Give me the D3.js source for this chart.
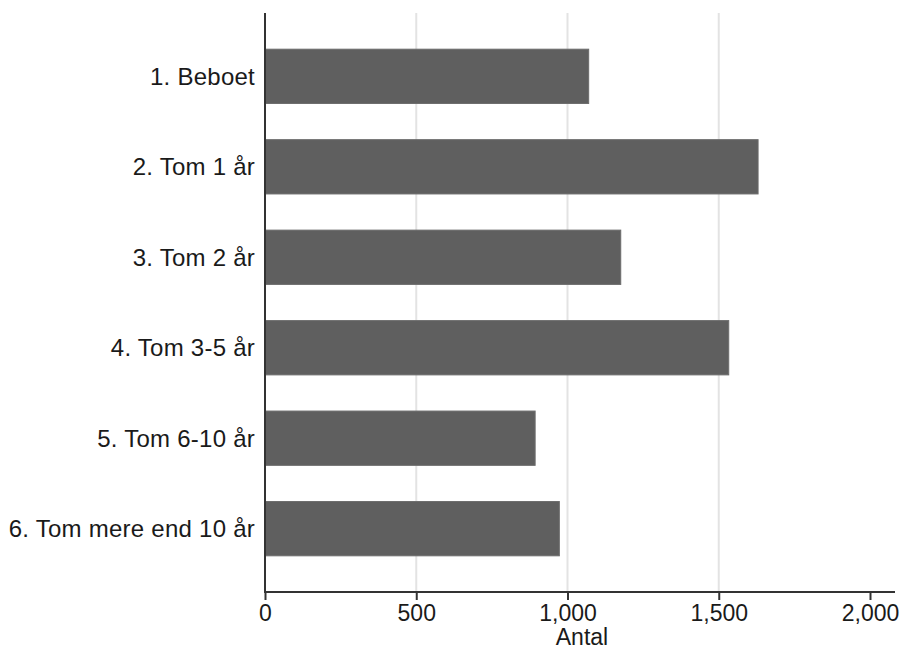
<!DOCTYPE html>
<html>
<head>
<meta charset="utf-8">
<script src="https://cdn.jsdelivr.net/npm/d3@7"></script>
<style>
  html, body { margin: 0; padding: 0; background: #fff; }
  svg { display: block; }
  text { font-family: "Liberation Sans", Arial, sans-serif; fill: #1a1a1a; }
</style>
</head>
<body>
<svg id="chart" width="903" height="651"></svg>
<script>
const categories = ["1. Beboet", "2. Tom 1 år", "3. Tom 2 år", "4. Tom 3-5 år", "5. Tom 6-10 år", "6. Tom mere end 10 år"];
const values = [1070, 1630, 1176, 1533, 893, 973];
const xTicks = [0, 500, 1000, 1500, 2000];
const gridTicks = [500, 1000, 1500];
const xTitle = "Antal";

const svg = d3.select("#chart");

const x = d3.scaleLinear().domain([0, 2000]).range([265, 870]);
const y = d3.scaleBand().domain(categories).range([13, 592]).paddingInner(0.4).paddingOuter(0.4);

// gridlines
svg.append("g").selectAll("line").data(gridTicks).join("line")
  .attr("x1", d => x(d)).attr("x2", d => x(d))
  .attr("y1", 13).attr("y2", 592)
  .attr("stroke", "#e3e3e3").attr("stroke-width", 2);

// bars
svg.append("g").selectAll("rect").data(categories).join("rect")
  .attr("x", x(0))
  .attr("y", d => y(d))
  .attr("width", (d, i) => x(values[i]) - x(0))
  .attr("height", y.bandwidth())
  .attr("fill", "#5f5f5f")
  .attr("stroke", "#6c6c6c")
  .attr("stroke-width", 1);

// x axis
const xAxis = svg.append("g").attr("transform", "translate(0,592)")
  .call(d3.axisBottom(x).tickValues(xTicks).tickSize(8).tickPadding(5).tickFormat(d3.format(",")));
xAxis.select(".domain").remove();
xAxis.selectAll(".tick line").attr("stroke", "#333").attr("stroke-width", 2);
xAxis.selectAll(".tick text").attr("font-size", 23).attr("fill", "#1a1a1a")
  .style("font-family", "'Liberation Sans', Arial, sans-serif");
svg.append("line").attr("x1", 264).attr("x2", 895).attr("y1", 592).attr("y2", 592)
  .attr("stroke", "#333").attr("stroke-width", 2);

// y axis
svg.append("line").attr("x1", 265).attr("x2", 265).attr("y1", 13).attr("y2", 593)
  .attr("stroke", "#333").attr("stroke-width", 2);
svg.append("g").selectAll("text").data(categories).join("text")
  .attr("x", 255)
  .attr("y", d => y(d) + y.bandwidth() / 2)
  .attr("dy", "0.36em")
  .attr("text-anchor", "end")
  .attr("font-size", 24)
  .attr("letter-spacing", "0.25px")
  .text(d => d);

// x title
svg.append("text")
  .attr("x", (x(0) + 895) / 2 + 2)
  .attr("y", 645)
  .attr("text-anchor", "middle")
  .attr("font-size", 23)
  .text(xTitle);
</script>
</body>
</html>
